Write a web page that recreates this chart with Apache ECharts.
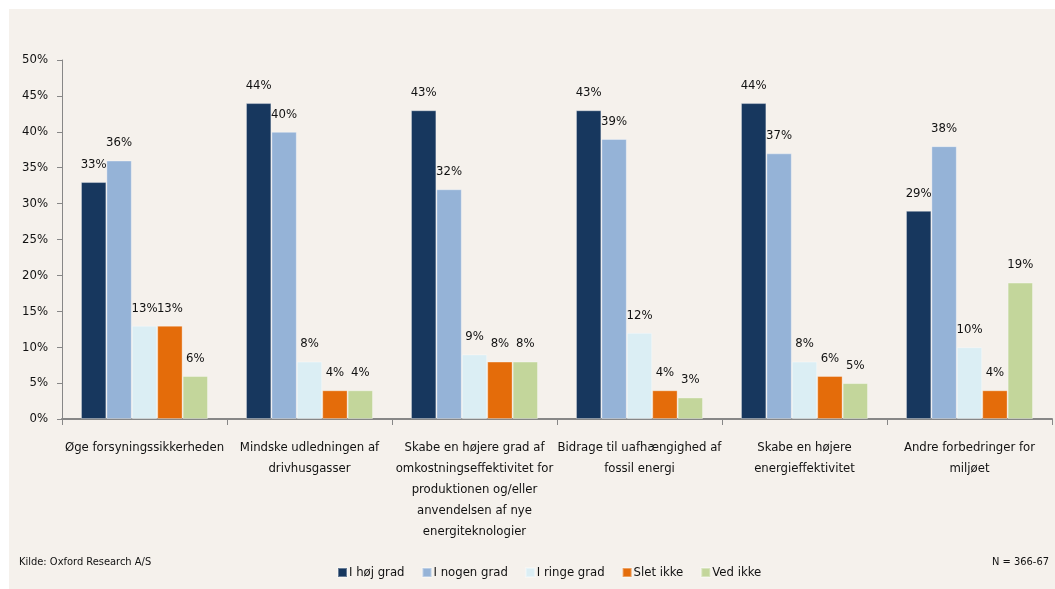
<!DOCTYPE html>
<html>
<head>
<meta charset="utf-8">
<script src="https://cdn.jsdelivr.net/npm/echarts@6/dist/echarts.min.js"></script>
<style>
  html, body { margin: 0; padding: 0; background: #ffffff; }
  #chart { width: 1055px; height: 589px; }
</style>
</head>
<body>
<div id="chart"></div>
<script>
// Categories (x axis)
const categories = [
  'Øge forsyningssikkerheden',
  'Mindske udledningen af\ndrivhusgasser',
  'Skabe en højere grad af\nomkostningseffektivitet for\nproduktionen og/eller\nanvendelsen af nye\nenergiteknologier',
  'Bidrage til uafhængighed af\nfossil energi',
  'Skabe en højere\nenergieffektivitet',
  'Andre forbedringer for\nmiljøet'
];

// Series values (percent)
const hoejGrad   = [33, 44, 43, 43, 44, 29];
const nogenGrad  = [36, 40, 32, 39, 37, 38];
const ringeGrad  = [13, 8, 9, 12, 8, 10];
const sletIkke   = [13, 4, 8, 4, 6, 4];
const vedIkke    = [6, 4, 8, 3, 5, 19];

const seriesNames = ['I høj grad', 'I nogen grad', 'I ringe grad', 'Slet ikke', 'Ved ikke'];
const seriesData = [hoejGrad, nogenGrad, ringeGrad, sletIkke, vedIkke];
const seriesColors = ['#17375E', '#95B3D7', '#DBEEF4', '#E46C0A', '#C3D69B'];

const FONT = '"DejaVu Sans Condensed", "Liberation Sans Narrow", sans-serif';
const TEXT = '#111111';

const chart = echarts.init(document.getElementById('chart'), null, { renderer: 'canvas' });

chart.setOption({
  backgroundColor: '#ffffff',
  animation: false,
  textStyle: { fontFamily: FONT },
  graphic: [
    {
      type: 'rect',
      z: -10,
      silent: true,
      shape: { x: 9, y: 9, width: 1046, height: 580 },
      style: { fill: '#F5F1EC' }
    },
    {
      type: 'text',
      left: 19, top: 557,
      style: { text: 'Kilde: Oxford Research A/S', font: '11px ' + FONT, fill: TEXT }
    },
    {
      type: 'text',
      right: 6, top: 557,
      style: { text: 'N = 366-67', font: '11px ' + FONT, fill: TEXT }
    }
  ],
  grid: { left: 62, right: 3, top: 60, bottom: 170, containLabel: false },
  legend: {
    data: seriesNames,
    left: 332,
    top: 561,
    icon: 'rect',
    itemWidth: 9,
    itemHeight: 9,
    itemGap: 17,
    textStyle: { fontFamily: FONT, fontSize: 13, color: TEXT, padding: [0, 0, 0, -3] }
  },
  xAxis: {
    type: 'category',
    data: categories,
    axisLine: { lineStyle: { color: '#878787', width: 2 } },
    axisTick: { show: true, length: 6, lineStyle: { color: '#878787', width: 1 } },
    axisLabel: {
      interval: 0,
      margin: 18,
      fontFamily: FONT,
      fontSize: 13,
      lineHeight: 21,
      color: TEXT,
      align: 'center'
    }
  },
  yAxis: {
    type: 'value',
    min: 0,
    max: 50,
    interval: 5,
    axisLine: { show: true, lineStyle: { color: '#878787', width: 1 } },
    axisTick: { show: true, length: 5, lineStyle: { color: '#878787' } },
    splitLine: { show: false },
    axisLabel: {
      formatter: '{value}%',
      margin: 14,
      fontFamily: FONT,
      fontSize: 13,
      color: TEXT
    }
  },
  series: seriesData.map((d, i) => ({
    name: seriesNames[i],
    type: 'bar',
    data: d,
    barGap: '0%',
    barCategoryGap: '23%',
    itemStyle: { color: seriesColors[i], borderColor: 'rgba(255,255,255,0.35)', borderWidth: 1 },
    label: {
      show: true,
      position: 'top',
      distance: 11,
      formatter: '{c}%',
      fontFamily: FONT,
      fontSize: 13,
      color: TEXT
    }
  }))
});
</script>
</body>
</html>
